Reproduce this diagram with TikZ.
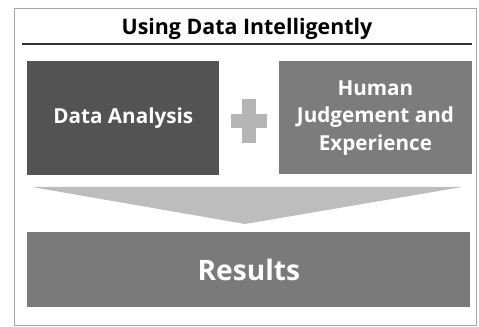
\documentclass[tikz,border=0pt]{standalone}
\usepackage{fontspec}
\setmainfont{Open Sans}
\usepackage{xcolor}
\usetikzlibrary{positioning, calc}

\definecolor{analysisgray}{HTML}{535353}
\definecolor{judgegray}{HTML}{7C7C7C}
\definecolor{resultgray}{HTML}{7A7A7A}
\definecolor{plusgray}{HTML}{B5B5B5}
\definecolor{chevrongray}{HTML}{BDBDBD}

\begin{document}
\begin{tikzpicture}[x=0.025cm, y=-0.025cm,
    box/.style={fill=#1, text=white, align=center, inner sep=0pt,
        font=\bfseries\fontsize{14.7}{19.5}\selectfont},
    framegray/.style={draw=black!35, line width=0.6pt}]
    \useasboundingbox (0,0) rectangle (479,327);
    \fill[white] (0,0) rectangle (479,327);
    % 外框
    \draw[framegray] (14,8) rectangle (476,325);
    % 标题与下划线
    \node[font=\bfseries\fontsize{15.2}{18}\selectfont] (title) at (247,29) {Using Data Intelligently};
    \coordinate (ruleL) at (22,44);
    \coordinate (ruleR) at (472,44);
    \draw[line width=1.6pt, black!80] (ruleL) -- (ruleR);
    % 两个方块
    \node[box=analysisgray, minimum width=4.8cm, minimum height=2.85cm, anchor=north west] (analysis) at (27,61) {Data Analysis};
    \node[box=judgegray, minimum width=4.825cm, minimum height=2.825cm, right=1.475cm of analysis.north east, anchor=north west] (judgement) {Human\\Judgement and\\Experience};
    % 中间的加号
    \coordinate (plus) at ($(analysis.east)!0.5!(judgement.west)+(0,3)$);
    \fill[plusgray] ($(plus)+(-18,-7)$) rectangle ($(plus)+(18,7)$);
    \fill[plusgray] ($(plus)+(-7,-22)$) rectangle ($(plus)+(7,22)$);
    % 向下的箭头
    \coordinate (chevL) at (32,187);
    \coordinate (chevR) at (462,187);
    \coordinate (chevTip) at (245,224);
    \fill[chevrongray] (chevL) -- (chevR) -- (chevTip) -- cycle;
    % 结果
    \node[box=resultgray, minimum width=11.075cm, minimum height=1.875cm, anchor=north west,
        font=\bfseries\fontsize{20}{24}\selectfont] (results) at (27,232) {Results};
\end{tikzpicture}
\end{document}
